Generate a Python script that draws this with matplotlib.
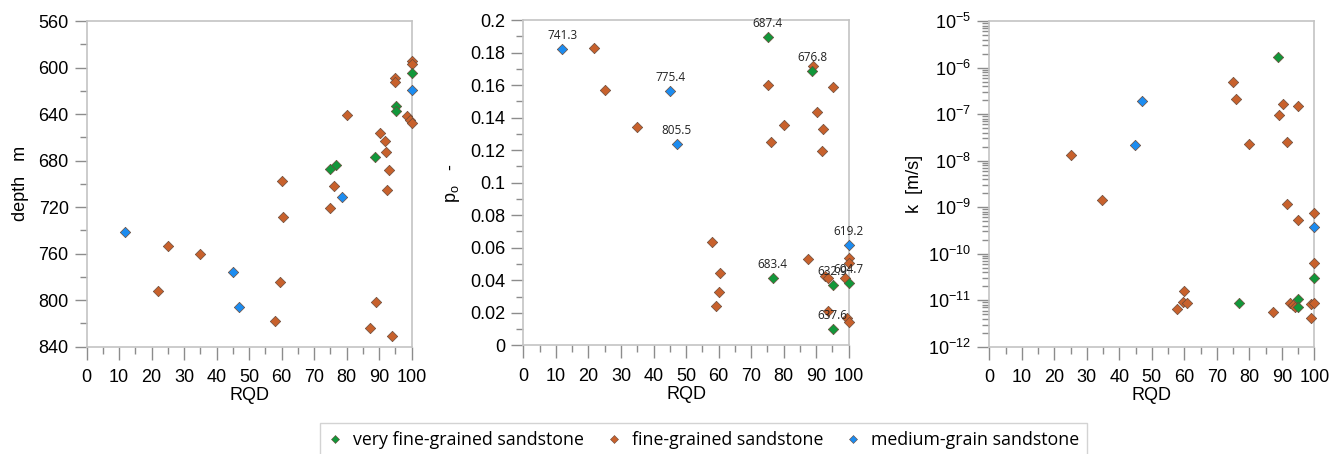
import matplotlib
matplotlib.use("Agg")
import matplotlib.pyplot as plt
from matplotlib.ticker import MultipleLocator, FuncFormatter, LogLocator, NullFormatter
from matplotlib.lines import Line2D

plt.rcParams["font.family"] = ["Liberation Sans", "DejaVu Sans"]

# ---------------- data ----------------
# panel 1: RQD vs depth
d_vf_rqd = [100, 95.2, 95.2, 88.8, 76.7, 75.0]
d_vf_val = [604.7, 632.9, 637.6, 676.8, 683.4, 687.4]
d_f_rqd = [100, 100, 94.9, 94.9, 80.1, 98.6, 99.5, 100, 90.2, 91.7, 92.1, 93.0, 92.4,
           76.0, 75.0, 60.1, 60.4, 25.1, 34.8, 21.8, 59.5, 58.0, 89.0, 87.2, 94.0]
d_f_val = [594.1, 597.2, 609.3, 612.7, 640.5, 641.7, 645.1, 647.9, 656.3, 663.5, 672.9, 688.4, 705.3,
           701.6, 720.5, 697.3, 728.2, 753.5, 760.3, 792.4, 784.4, 817.7, 801.3, 824.3, 830.6]
d_m_rqd = [11.8, 45.1, 47.0, 78.7, 100]
d_m_val = [741.3, 775.4, 805.5, 711.0, 619.2]

# panel 2: RQD vs p_o (labels = depth)
p_vf_rqd = [75.1, 88.7, 76.6, 95.1, 100, 95.1]
p_vf_val = [0.1895, 0.1686, 0.0416, 0.0369, 0.0385, 0.0100]
p_vf_lab = ["687.4", "676.8", "683.4", "632.9", "604.7", "637.6"]
p_f_rqd = [21.8, 25.1, 34.8, 58.0, 60.5, 60.1, 59.3, 75.1, 76.1, 80.1, 88.9, 90.2, 92.0, 91.8,
           95.1, 87.4, 92.7, 93.7, 98.9, 100, 100, 93.7, 99.4, 100]
p_f_val = [0.183, 0.1568, 0.1342, 0.0635, 0.0447, 0.0326, 0.0242, 0.1598, 0.1248, 0.1355, 0.1719,
           0.1436, 0.1330, 0.1197, 0.1590, 0.0531, 0.0426, 0.0412, 0.0412, 0.0535, 0.0504, 0.0211,
           0.0166, 0.0145]
p_m_rqd = [11.9, 45.1, 47.1, 100]
p_m_val = [0.1822, 0.1561, 0.1238, 0.0617]
p_m_lab = ["741.3", "775.4", "805.5", "619.2"]

# panel 3: RQD vs k
k_vf_rqd = [88.7, 76.8, 100, 95.1, 95.1]
k_vf_val = [1.66e-6, 8.7e-12, 2.95e-11, 1.05e-11, 7.2e-12]
k_f_rqd = [25.0, 34.7, 75.1, 76.0, 89.0, 90.4, 95.1, 80.0, 91.7, 91.7, 95.1, 100, 100,
           59.9, 59.5, 60.7, 57.7, 87.4, 92.5, 93.4, 94.1, 98.9, 100, 98.9]
k_f_val = [1.30e-8, 1.42e-9, 4.89e-7, 2.14e-7, 9.7e-8, 1.67e-7, 1.47e-7, 2.24e-8, 2.51e-8,
           1.19e-9, 5.28e-10, 7.36e-10, 6.3e-11, 1.6e-11, 9.3e-12, 8.6e-12, 6.4e-12, 5.66e-12,
           8.6e-12, 7.76e-12, 7.0e-12, 8.2e-12, 8.8e-12, 4.2e-12]
k_m_rqd = [47.1, 44.9, 100]
k_m_val = [1.88e-7, 2.16e-8, 3.68e-10]

names = ["very fine-grained sandstone", "fine-grained sandstone", "medium-grain sandstone"]
c_vf = "#12973a"
c_f = "#c8612c"
c_m = "#1c8cf0"
edge = "#6a4a3a"

# ---------------- figure ----------------
fig = plt.figure(figsize=(13.44, 4.54), dpi=100)
ax1 = fig.add_axes([0.0645, 0.2363, 0.2418, 0.7174])
ax2 = fig.add_axes([0.3894, 0.2394, 0.2421, 0.7165])
ax3 = fig.add_axes([0.7361, 0.2363, 0.2418, 0.7174])

mk = dict(marker="D", s=28, edgecolors=edge, linewidths=0.5, clip_on=False)


def style(ax):
    for sp in ax.spines.values():
        sp.set_color("#c4c4c4")
        sp.set_linewidth(1.2)
    ax.set_xlim(0, 100)
    ax.xaxis.set_major_locator(MultipleLocator(10))
    ax.xaxis.set_minor_locator(MultipleLocator(5))
    ax.tick_params(which="both", direction="out", color="#8c8c8c", width=1.0)
    ax.tick_params(which="major", length=9, labelsize=13)
    ax.tick_params(which="minor", length=5)
    ax.tick_params(axis="x", which="major", pad=7)
    ax.tick_params(axis="y", which="major", pad=4)
    ax.set_xlabel("RQD", fontsize=13, labelpad=1)


# panel 1
ax1.scatter(d_f_rqd, d_f_val, color=c_f, zorder=3, **mk)
ax1.scatter(d_vf_rqd, d_vf_val, color=c_vf, zorder=4, **mk)
ax1.scatter(d_m_rqd, d_m_val, color=c_m, zorder=5, **mk)
style(ax1)
ax1.set_ylim(840, 560)
ax1.yaxis.set_major_locator(MultipleLocator(40))
ax1.yaxis.set_minor_locator(MultipleLocator(20))
ax1.set_ylabel("depth   m", fontsize=13, labelpad=7)

# panel 2
ax2.scatter(p_f_rqd, p_f_val, color=c_f, zorder=3, **mk)
ax2.scatter(p_vf_rqd, p_vf_val, color=c_vf, zorder=4, **mk)
ax2.scatter(p_m_rqd, p_m_val, color=c_m, zorder=5, **mk)
for x, y, t in zip(p_vf_rqd + p_m_rqd, p_vf_val + p_m_val, p_vf_lab + p_m_lab):
    ax2.annotate(t, (x, y), xytext=(0, 5), textcoords="offset points", ha="center",
                 va="bottom", fontsize=8.5, family=["Open Sans", "DejaVu Sans"],
                 color="#222222", zorder=6, annotation_clip=False)
style(ax2)
ax2.set_ylim(0, 0.2)
ax2.yaxis.set_major_locator(MultipleLocator(0.02))
ax2.yaxis.set_minor_locator(MultipleLocator(0.01))
ax2.yaxis.set_major_formatter(FuncFormatter(lambda v, p: "{:g}".format(round(v, 4))))
ax2.set_ylabel("p$_\\mathregular{o}$   -", fontsize=13, labelpad=6)

# panel 3
ax3.scatter(k_f_rqd, k_f_val, color=c_f, zorder=3, **mk)
ax3.scatter(k_vf_rqd, k_vf_val, color=c_vf, zorder=4, **mk)
ax3.scatter(k_m_rqd, k_m_val, color=c_m, zorder=5, **mk)
ax3.set_yscale("log")
style(ax3)
ax3.set_ylim(1e-12, 1e-5)
ax3.yaxis.set_major_locator(LogLocator(base=10, numticks=20))
ax3.yaxis.set_minor_locator(LogLocator(base=10, subs=range(2, 10), numticks=100))
ax3.yaxis.set_minor_formatter(NullFormatter())
ax3.set_ylabel("k  [m/s]", fontsize=13, labelpad=4)

# legend
handles = [Line2D([], [], ls="none", marker="D", ms=4.2, mfc=c, mec=edge, mew=0.4)
           for c in (c_vf, c_f, c_m)]
leg = fig.legend(handles, names, loc="upper center", bbox_to_anchor=(0.5235, 1 - 423 / 454),
                 ncol=3, frameon=True, fancybox=False, edgecolor="#c8c8c8",
                 prop={"family": ["Open Sans", "DejaVu Sans"], "size": 12.8},
                 handlelength=0.8, handletextpad=0.6, columnspacing=1.3,
                 borderpad=0.45, borderaxespad=0)
leg.get_frame().set_linewidth(1.0)

fig.savefig("out.png", dpi=100, facecolor="white")
